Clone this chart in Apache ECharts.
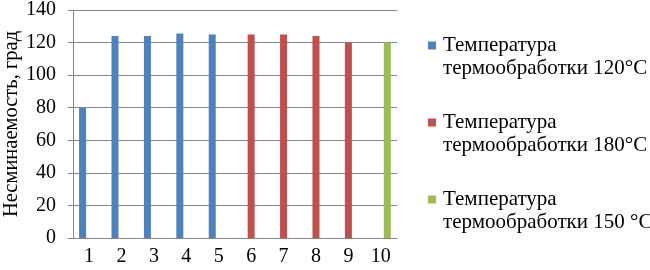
<!DOCTYPE html>
<html><head><meta charset="utf-8">
<script src="https://cdn.jsdelivr.net/npm/echarts@6/dist/echarts.min.js"></script>
<style>html,body{margin:0;padding:0;background:#fff}#c{width:650px;height:270px}</style>
</head><body><div id="c"></div>
<script>
const categories = ['1','2','3','4','5','6','7','8','9','10'];
const series120 = [80, 124, 124, 125.5, 125, null, null, null, null, null];
const series180 = [null, null, null, null, null, 125, 125, 124, 120, null];
const series150 = [null, null, null, null, null, null, null, null, null, 120];
const seriesNames = ['Температура термообработки 120°C', 'Температура термообработки 180°C', 'Температура термообработки 150 °C'];
const yAxisName = 'Несминаемость, град';

const font = '"Liberation Serif", "Times New Roman", serif';
const colors = ['#4F81BD', '#C0504D', '#9BBB59'];
const chart = echarts.init(document.getElementById('c'), null, {renderer: 'canvas'});
const mk = (name, data, i) => ({
  name, type: 'bar', data, barWidth: 7, barGap: '-7%',
  itemStyle: {color: colors[i]}
});
chart.setOption({
  animation: false,
  textStyle: {fontFamily: font},
  grid: {left: 72, right: 253, top: 8, bottom: 32, containLabel: false},
  legend: {
    orient: 'vertical', left: 428, top: 11, padding: 0, itemWidth: 8, itemHeight: 8, itemGap: 8,
    icon: 'rect',
    formatter: n => { const p = n.split(' термообработки'); return '\n' + p[0] + '\nтермообработки' + p[1]; },
    textStyle: {fontFamily: font, fontSize: 21, color: '#000', lineHeight: 23, padding: [0,0,0,2]}
  },
  xAxis: {
    type: 'category', data: categories,
    axisLine: {lineStyle: {color: '#868686', width: 1}},
    axisTick: {show: false},
    axisLabel: {fontFamily: font, fontSize: 20, color: '#000', margin: 9}
  },
  yAxis: {
    type: 'value', min: 0, max: 140, interval: 20,
    name: yAxisName, nameLocation: 'middle', nameGap: 50,
    nameTextStyle: {fontFamily: font, fontSize: 20.5, color: '#000'},
    axisLine: {show: true, lineStyle: {color: '#868686'}},
    axisTick: {show: true, length: 5, lineStyle: {color: '#868686'}},
    splitLine: {lineStyle: {color: '#868686', width: 1}},
    axisLabel: {fontFamily: font, fontSize: 20, color: '#000', margin: 17}
  },
  series: [mk(seriesNames[0], series120, 0), mk(seriesNames[1], series180, 1), mk(seriesNames[2], series150, 2)]
});
</script></body></html>
